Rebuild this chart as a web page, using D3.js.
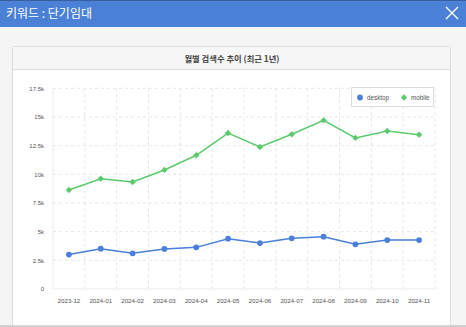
<!DOCTYPE html>
<html><head><meta charset="utf-8">
<script src="https://cdn.jsdelivr.net/npm/d3@7"></script>
<style>
body{margin:0;padding:0;background:#f4f4f4;font-family:"Noto Sans CJK KR","Noto Sans",sans-serif;}
svg{display:block;}
</style></head>
<body>
<svg id="c" width="466" height="327"></svg>
<script>
const months = ["2023-12","2024-01","2024-02","2024-03","2024-04","2024-05","2024-06","2024-07","2024-08","2024-09","2024-10","2024-11"];
const desktop = [3000,3510,3110,3490,3630,4390,4010,4420,4560,3900,4270,4270];
const mobile  = [8630,9620,9330,10380,11660,13600,12380,13490,14710,13170,13780,13460];
const yTicks = [0,2500,5000,7500,10000,12500,15000,17500];
const yTickLabels = ["0","2.5k","5k","7.5k","10k","12.5k","15k","17.5k"];
const seriesNames = ["desktop","mobile"];
const colors = ["#4a7fdb","#5acb6c"];

const svg = d3.select("#c");
// header
svg.append("rect").attr("x",0).attr("y",0).attr("width",466).attr("height",27).attr("fill","#4a80d6");
svg.append("rect").attr("x",0).attr("y",0).attr("width",466).attr("height",1).attr("fill","#3a5f9e");
svg.append("text").attr("x",6).attr("y",18).attr("fill","#fff").attr("font-size",12)
  .attr("font-family","'Noto Sans CJK KR',sans-serif").text("키워드 : 단기임대");
const cx=452, cy=13, s=6;
svg.append("path").attr("d",`M${cx-s},${cy-s}L${cx+s},${cy+s}M${cx+s},${cy-s}L${cx-s},${cy+s}`)
  .attr("stroke","#fff").attr("stroke-width",1.4);
// body bg
svg.append("rect").attr("x",0).attr("y",27).attr("width",466).attr("height",300).attr("fill","#f5f5f5");
svg.append("rect").attr("x",0).attr("y",325).attr("width",466).attr("height",2).attr("fill","#cfcfcf");
// card
svg.append("rect").attr("x",12.5).attr("y",46.5).attr("width",438).attr("height",279).attr("rx",2)
  .attr("fill","#fff").attr("stroke","#dcdcdc");
svg.append("path").attr("d","M13,69.5H450").attr("stroke","#dcdcdc");
svg.append("rect").attr("x",13).attr("y",47).attr("width",437).attr("height",22).attr("fill","#f7f7f7");
svg.append("text").attr("x",232).attr("y",61.5).attr("text-anchor","middle").attr("font-size",8.3)
  .attr("font-weight","bold").attr("fill","#444").attr("font-family","'Noto Sans CJK KR',sans-serif")
  .text("월별 검색수 추이 (최근 1년)");

// plot
const L=53, R=435, T=88.3, B=289;
const x = d3.scaleBand().domain(months).range([L,R]);
const y = d3.scaleLinear().domain([0,17500]).range([B,T]);

const g = svg.append("g");
g.selectAll(".hg").data(yTicks.slice(1)).join("line")
  .attr("x1",L).attr("x2",R).attr("y1",d=>y(d)).attr("y2",d=>y(d))
  .attr("stroke","#e6e6e6").attr("stroke-dasharray","3,3");
g.selectAll(".vg").data(months).join("line")
  .attr("x1",d=>x(d)+x.bandwidth()).attr("x2",d=>x(d)+x.bandwidth())
  .attr("y1",T).attr("y2",B).attr("stroke","#e6e6e6").attr("stroke-dasharray","3,3");
g.append("line").attr("x1",L).attr("x2",L).attr("y1",T).attr("y2",B).attr("stroke","#ececec");
g.append("line").attr("x1",L).attr("x2",R).attr("y1",B).attr("y2",B).attr("stroke","#ececec");

const axFont = "'Liberation Sans',Arial,sans-serif";
const yAxis = d3.axisLeft(y).tickValues(yTicks).tickFormat((d,i)=>yTickLabels[i]).tickSize(0).tickPadding(9);
const ya = svg.append("g").attr("transform",`translate(${L},0)`).call(yAxis);
ya.select(".domain").remove();
ya.selectAll("text").attr("font-size",6).attr("fill","#555").attr("font-family",axFont);
const xAxis = d3.axisBottom(x).tickSize(0).tickPadding(10);
const xa = svg.append("g").attr("transform",`translate(0,${B})`).call(xAxis);
xa.select(".domain").remove();
xa.selectAll("text").attr("font-size",6.2).attr("fill","#555").attr("font-family",axFont);

const cxp = d=>x(d)+x.bandwidth()/2;
const line = d3.line().x((d,i)=>cxp(months[i])).y(d=>y(d));
const markerPath = k => k===0 ? d3.symbol().type(d3.symbolCircle).size(26)()
                               : d3.symbol().type(d3.symbolSquare).size(20)();
[desktop,mobile].forEach((arr,k)=>{
  svg.append("path").attr("d",line(arr)).attr("fill","none").attr("stroke",colors[k]).attr("stroke-width",1.5);
  svg.selectAll(".m"+k).data(arr).join("path")
    .attr("transform",(d,i)=>`translate(${cxp(months[i])},${y(d)})`+(k===1?" rotate(45)":""))
    .attr("d",markerPath(k)).attr("fill",colors[k]);
});

// legend
svg.append("rect").attr("x",351.5).attr("y",87.5).attr("width",82).attr("height",19).attr("fill","#fff").attr("stroke","#dcdcdc");
const lx=[360,404];
seriesNames.forEach((n,k)=>{
  svg.append("path").attr("transform",`translate(${lx[k]},97.5)`+(k===1?" rotate(45)":"")).attr("d",markerPath(k)).attr("fill",colors[k]);
  svg.append("text").attr("x",lx[k]+7).attr("y",99.8).attr("font-size",6.3).attr("fill","#555")
    .attr("font-family",axFont).text(n);
});
</script>
</body></html>
